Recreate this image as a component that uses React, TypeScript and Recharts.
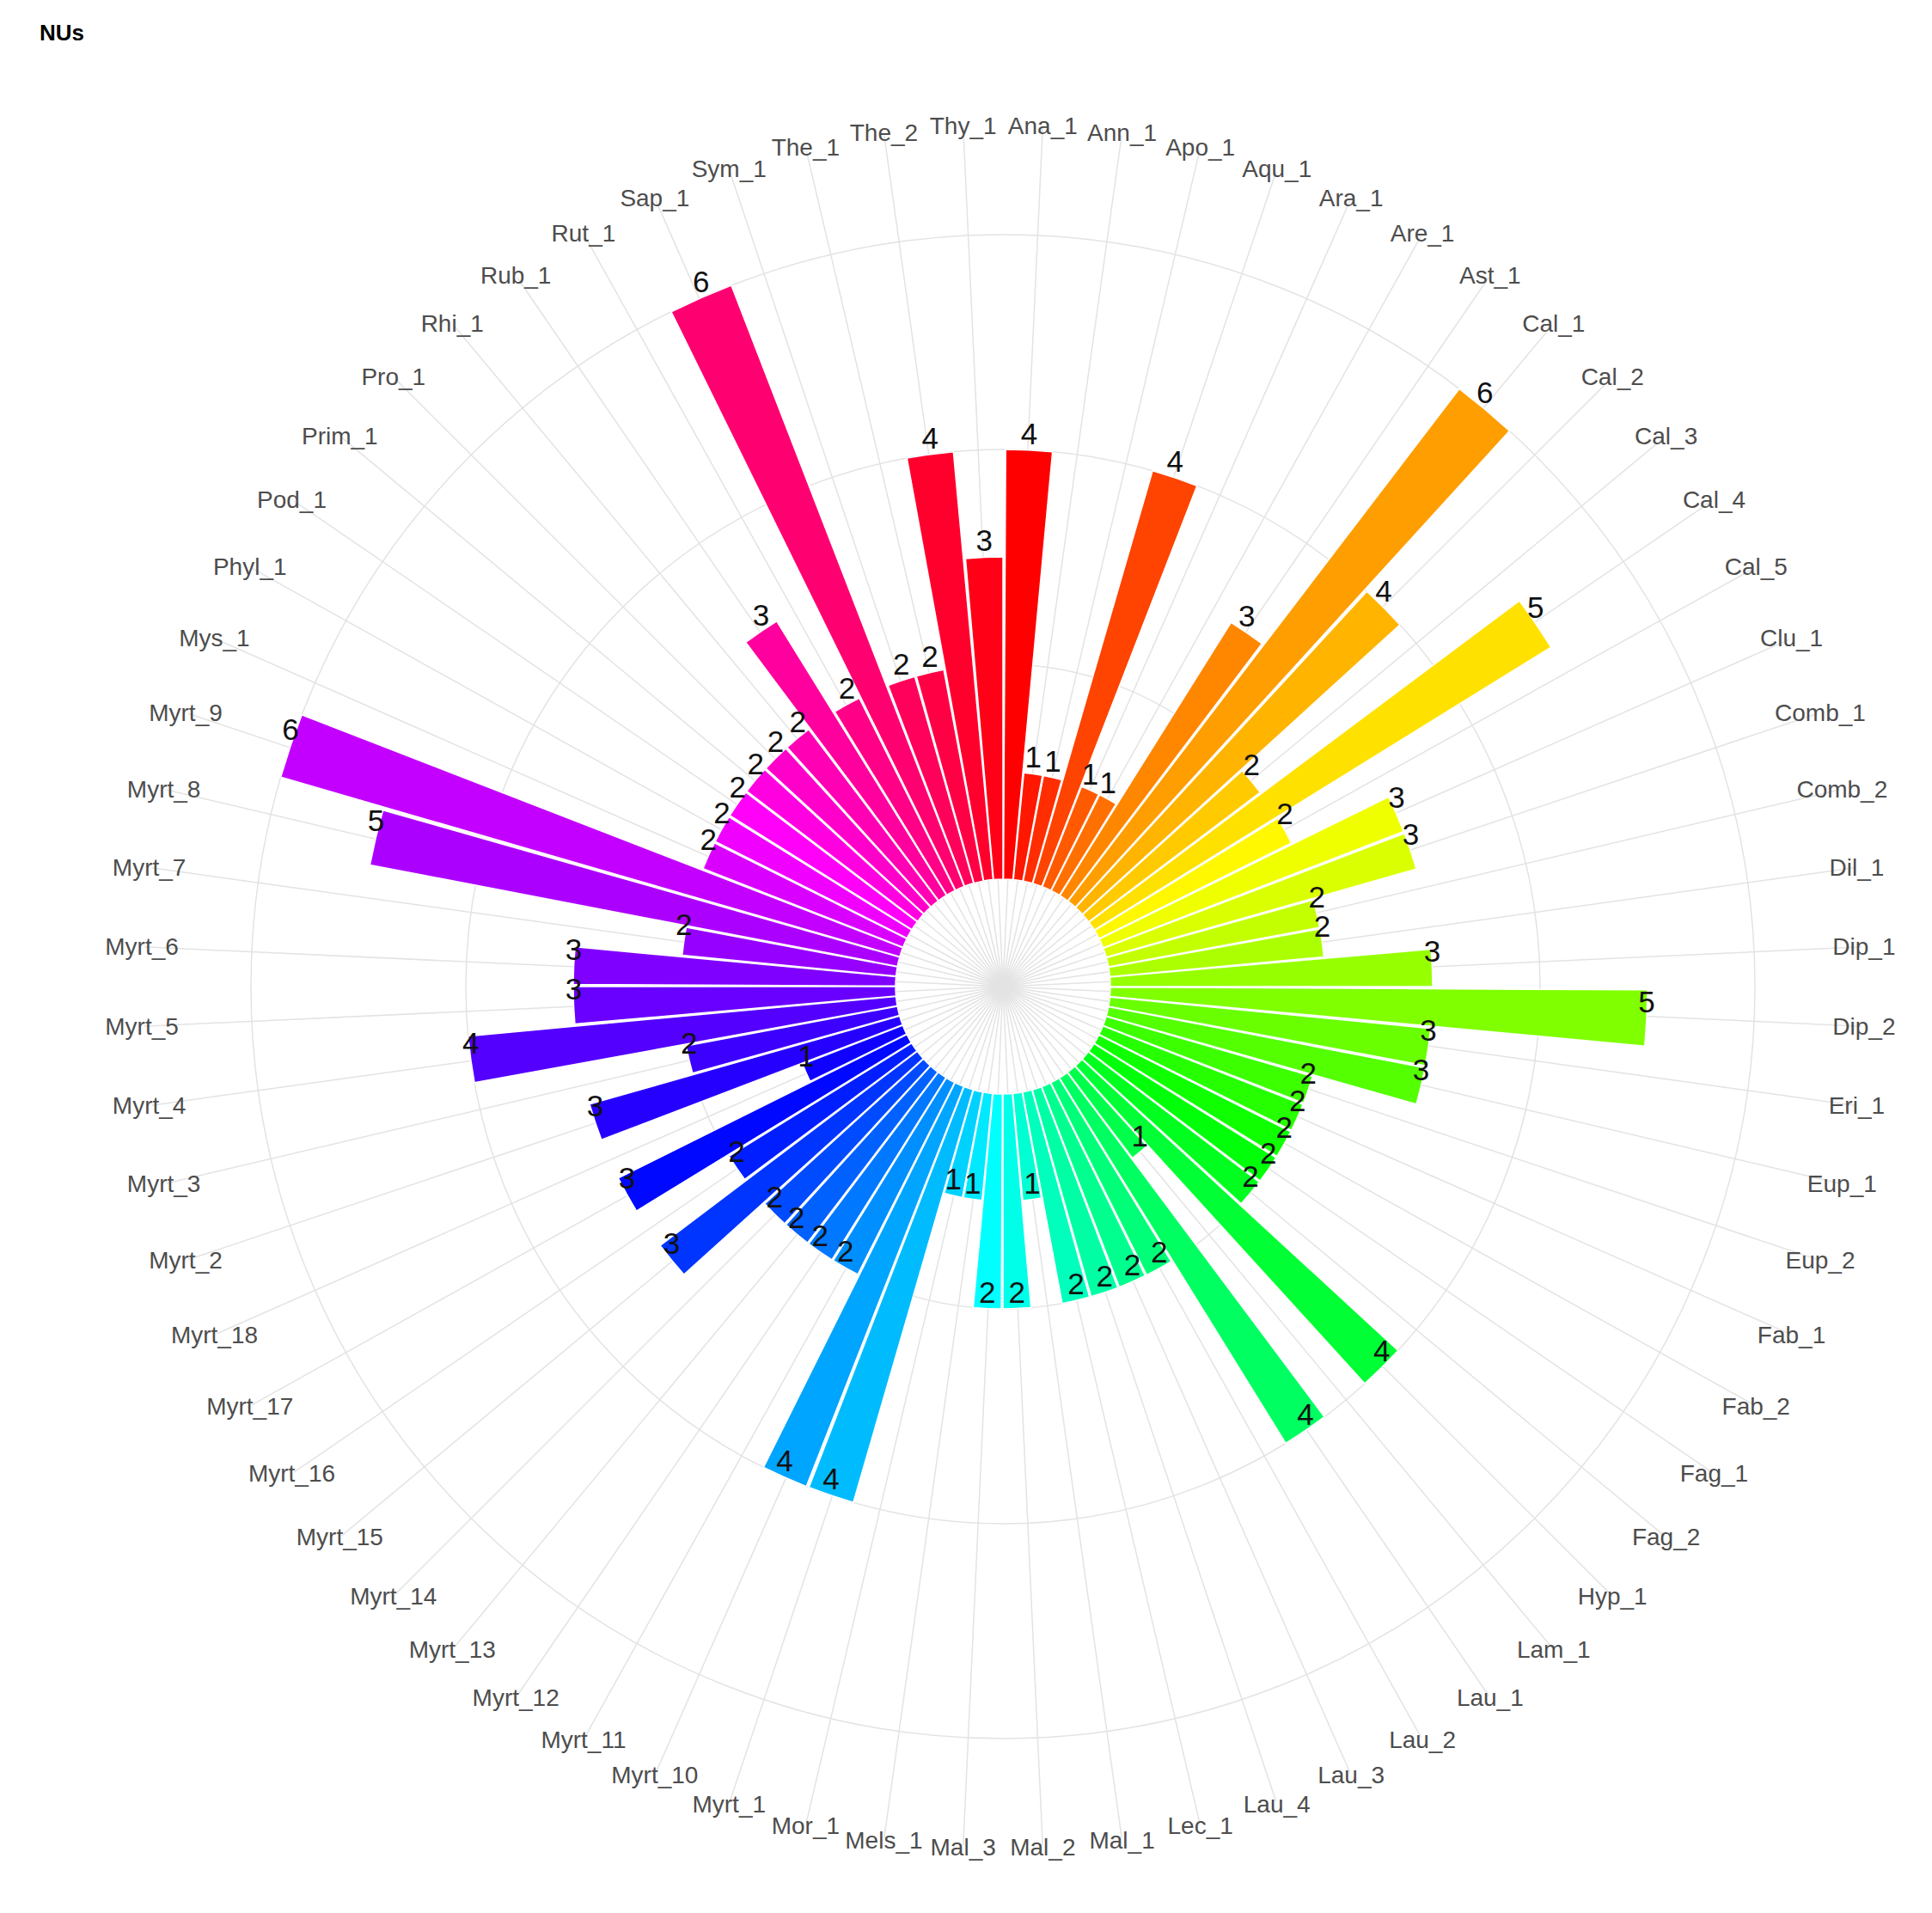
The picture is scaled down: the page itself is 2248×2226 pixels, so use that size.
import React from 'react';
import {
  RadialBarChart,
  RadialBar,
  PolarAngleAxis,
  PolarRadiusAxis,
  PolarGrid,
  Cell,
  LabelList,
} from 'recharts';

// categories clockwise from 12 o'clock
const CATEGORIES = [
  'Ana_1', 'Ann_1', 'Apo_1', 'Aqu_1', 'Ara_1', 'Are_1', 'Ast_1', 'Cal_1', 'Cal_2', 'Cal_3',
  'Cal_4', 'Cal_5', 'Clu_1', 'Comb_1', 'Comb_2', 'Dil_1', 'Dip_1', 'Dip_2', 'Eri_1', 'Eup_1',
  'Eup_2', 'Fab_1', 'Fab_2', 'Fag_1', 'Fag_2', 'Hyp_1', 'Lam_1', 'Lau_1', 'Lau_2', 'Lau_3',
  'Lau_4', 'Lec_1', 'Mal_1', 'Mal_2', 'Mal_3', 'Mels_1', 'Mor_1', 'Myrt_1', 'Myrt_10', 'Myrt_11',
  'Myrt_12', 'Myrt_13', 'Myrt_14', 'Myrt_15', 'Myrt_16', 'Myrt_17', 'Myrt_18', 'Myrt_2', 'Myrt_3', 'Myrt_4',
  'Myrt_5', 'Myrt_6', 'Myrt_7', 'Myrt_8', 'Myrt_9', 'Mys_1', 'Phyl_1', 'Pod_1', 'Prim_1', 'Pro_1',
  'Rhi_1', 'Rub_1', 'Rut_1', 'Sap_1', 'Sym_1', 'The_1', 'The_2', 'Thy_1',
];

const NU_COUNTS = [
  4, 1, 1, 4, 1, 1, 3, 6, 4, 2,
  5, 2, 3, 3, 2, 2, 3, 5, 3, 3,
  2, 2, 2, 2, 2, 4, 1, 4, 2, 2,
  2, 2, 1, 2, 2, 1, 1, 4, 4, 2,
  2, 2, 2, 3, 2, 3, 1, 3, 2, 4,
  3, 3, 2, 5, 6, 2, 2, 2, 2, 2,
  2, 3, 2, 6, 2, 2, 4, 3,
];

const RADIUS_TICKS = [0, 2, 4, 6];
const Y_MIN = -1;
const Y_MAX = 6;
// room between the longest bar and the panel edge (where spokes stop)
const R_MAX = Y_MAX + (Y_MAX - Y_MIN) * 0.116;

const data = CATEGORIES.map((name, i) => ({ name, value: NU_COUNTS[i] }));

// R's rainbow(n)
const COLORS = CATEGORIES.map((_, i) => `hsl(${(i * 360) / CATEGORIES.length}, 100%, 50%)`);

const W = 2232;
const H = 2210;
const CX = 1159;
const CY = 1140;
const OUTER = 1000;
const LABEL_R = 1003;
const RAD = Math.PI / 180;
const BAND = 360 / CATEGORIES.length;
// first bar starts at 12 o'clock and runs clockwise
const START = 90 - BAND;
const FONT = '"Liberation Sans", Arial, sans-serif';

// spokes through the middle of each bar, as ggplot draws them
const SPOKES = CATEGORIES.map((_, i) => START + BAND / 2 - BAND * i);

const CategoryTick = (props: any) => {
  const { x, y, payload } = props;
  // tick sits on the bar edge; turn it half a band to the bar centre
  const a = Math.atan2(-(y - CY), x - CX) + (BAND / 2) * RAD;
  return (
    <text
      x={CX + LABEL_R * Math.cos(a)}
      y={CY - LABEL_R * Math.sin(a)}
      textAnchor="middle"
      dominantBaseline="central"
      fontSize={28}
      fontFamily={FONT}
      fill="#4D4D4D"
    >
      {payload.value}
    </text>
  );
};

const ValueLabel = (props: any) => {
  const { viewBox, value } = props;
  if (!viewBox || viewBox.outerRadius == null) return null;
  const { cx, cy, outerRadius, startAngle, endAngle } = viewBox;
  const mid = (startAngle + endAngle) / 2;
  const x = cx + outerRadius * Math.cos(-mid * RAD);
  const y = cy + outerRadius * Math.sin(-mid * RAD);
  return (
    <text x={x} y={y - 7} textAnchor="middle" fontSize={35} fontFamily={FONT} fill="#111">
      {value}
    </text>
  );
};

export default function App() {
  return (
    <div style={{ position: 'relative', width: W, height: H, fontFamily: FONT }}>
      <div
        style={{
          position: 'absolute',
          left: 38,
          top: 17,
          fontSize: 26,
          fontWeight: 'bold',
          lineHeight: 1,
          color: '#000',
        }}
      >
        NUs
      </div>
      <RadialBarChart
        width={W}
        height={H}
        cx={CX}
        cy={CY}
        innerRadius={0}
        outerRadius={OUTER}
        startAngle={START}
        endAngle={START - 360}
        data={data}
        layout="centric"
        barCategoryGap={0}
        barGap={0}
        margin={{ top: 0, right: 0, bottom: 0, left: 0 }}
      >
        <PolarGrid gridType="circle" stroke="#E3E3E3" strokeWidth={1.5} polarAngles={SPOKES} />
        <PolarAngleAxis
          type="category"
          dataKey="name"
          tick={<CategoryTick />}
          tickLine={false}
          axisLine={false}
        />
        <PolarRadiusAxis
          type="number"
          domain={[Y_MIN, R_MAX]}
          allowDataOverflow
          ticks={RADIUS_TICKS}
          tick={false}
          axisLine={false}
        />
        <RadialBar dataKey="value" isAnimationActive={false} stroke="#fff" strokeWidth={1.5}>
          {data.map((d, i) => (
            <Cell key={d.name} fill={COLORS[i]} />
          ))}
          <LabelList dataKey="value" content={<ValueLabel />} />
        </RadialBar>
      </RadialBarChart>
    </div>
  );
}
